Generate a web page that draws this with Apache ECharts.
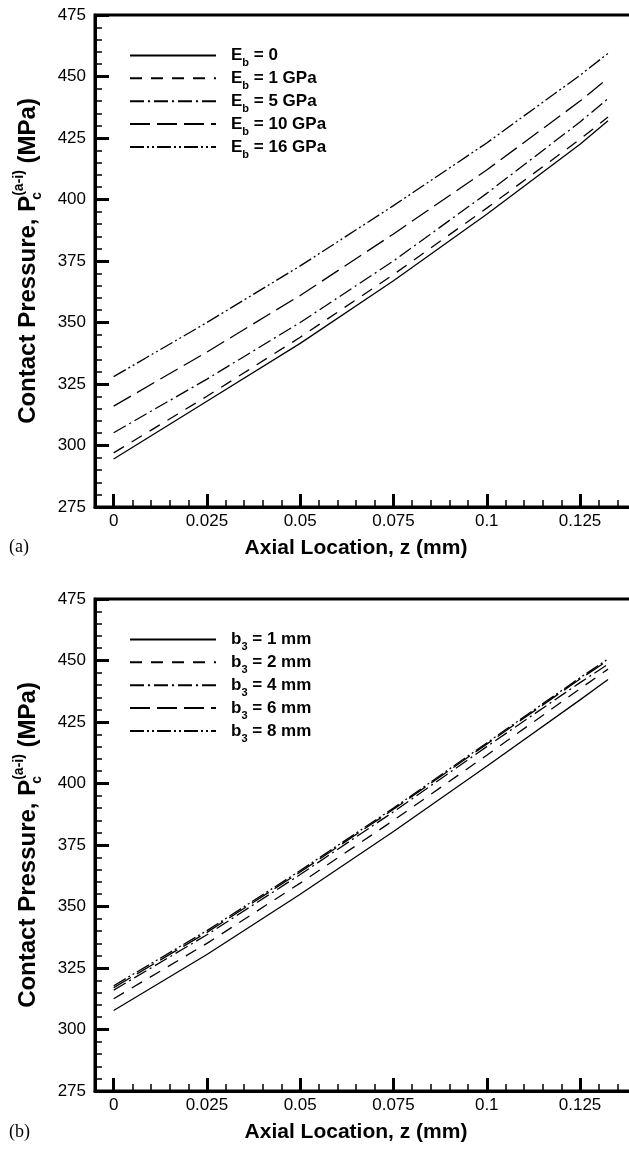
<!DOCTYPE html>
<html>
<head>
<meta charset="utf-8">
<style>
    html, body { margin: 0; padding: 0; background: #fff; }
    #statisticsChart { width: 629px; height: 1152px; }
</style>
</head>
<body>
<div id="statisticsChart"></div>
<script src="https://cdn.jsdelivr.net/npm/echarts@6/dist/echarts.min.js"></script>
<script>
// axial location (mm)
var zList = [0, 0.025, 0.05, 0.075, 0.1, 0.125, 0.1325];
var xTickList = [0, 0.025, 0.05, 0.075, 0.1, 0.125];

// (a) contact pressure for different E_b
var ebNames = ["E_b = 0", "E_b = 1 GPa", "E_b = 5 GPa", "E_b = 10 GPa", "E_b = 16 GPa"];
var eb0List = [294.5, 318, 341.5, 367, 394, 422.5, 432];
var eb1List = [297, 320, 344, 369.5, 396.5, 424.5, 433.5];
var eb5List = [305.2, 327, 350, 375, 402.5, 431.5, 441];
var eb10List = [316, 338, 361, 386, 412, 440, 449.3];
var eb16List = [328, 350, 373, 397.5, 423, 450.5, 459.4];

// (b) contact pressure for different b_3
var b3Names = ["b_3 = 1 mm", "b_3 = 2 mm", "b_3 = 4 mm", "b_3 = 6 mm", "b_3 = 8 mm"];
var b31List = [307.7, 330.5, 355, 380.5, 407, 434, 442.3];
var b32List = [312.5, 335, 359.5, 385, 411.5, 438.5, 446.5];
var b34List = [316, 338.5, 363, 388.5, 415, 441, 448.5];
var b36List = [317, 339.5, 364, 389.5, 416, 442.5, 450];
var b38List = [317.8, 340.2, 364.6, 390, 416.5, 443, 450.6];

var FONT = "Liberation Sans, Arial, Helvetica, sans-serif";
var lineTypes = ["solid", [12, 9], [14, 4, 2, 4], [20, 7], [14, 3, 2, 3, 2, 3]];

function toPairs(list) {
    return zList.map(function (z, i) { return [z, list[i]]; });
}

// "E_b = 1 GPa" -> rich text with subscript
function legendText(name) {
    var parts = name.split(" = ");
    var sym = parts[0].split("_");
    return "{h|" + sym[0] + "}{s|" + sym[1] + "}{t| = " + parts[1] + "}";
}

function makeGrid(top) {
    // right frame side runs past the picture edge
    return {
        left: 95,
        top: top,
        width: 541,
        height: 492,
        outerBoundsMode: "none",
        containLabel: false,
        show: true,
        borderColor: "#000",
        borderWidth: 3,
        backgroundColor: "transparent"
    };
}

function mainXAxis(gridIndex) {
    return {
        type: "value",
        gridIndex: gridIndex,
        position: "bottom",
        min: -0.005,
        max: 0.14,
        name: "Axial Location, z (mm)",
        nameLocation: "middle",
        nameGap: 31,
        // right padding pulls the centred name a bit to the left
        nameTextStyle: { fontFamily: FONT, fontSize: 21, fontWeight: "bold", color: "#000", padding: [0, 19, 0, 0] },
        axisLine: { show: true, onZero: false, lineStyle: { color: "#000", width: 3 } },
        axisTick: { show: true, inside: true, length: 13, customValues: xTickList, lineStyle: { color: "#000", width: 3 } },
        axisLabel: { show: true, margin: 6, customValues: xTickList, fontFamily: FONT, fontSize: 17, color: "#000" },
        splitLine: { show: false }
    };
}

function minorXAxis(gridIndex) {
    return {
        type: "value",
        gridIndex: gridIndex,
        position: "bottom",
        min: -0.005,
        max: 0.14,
        interval: 0.005,
        axisLine: { show: false, onZero: false },
        axisTick: { show: true, inside: true, length: 7, lineStyle: { color: "#000", width: 1.5 } },
        axisLabel: { show: false },
        splitLine: { show: false }
    };
}

function makeYAxis(gridIndex) {
    return {
        type: "value",
        gridIndex: gridIndex,
        position: "left",
        min: 275,
        max: 475,
        interval: 25,
        name: "{n|Contact Pressure, P}{sb|c}{sp|(a-i)}{n| (MPa)}",
        nameLocation: "middle",
        nameGap: 51,
        nameRotate: 90,
        nameTextStyle: {
            color: "#000",
            rich: {
                n: { fontFamily: FONT, fontSize: 24, fontWeight: "bold", lineHeight: 32, color: "#000" },
                sp: { fontFamily: FONT, fontSize: 14, fontWeight: "bold", lineHeight: 14, verticalAlign: "top", color: "#000" },
                sb: { fontFamily: FONT, fontSize: 14, fontWeight: "bold", lineHeight: 14, verticalAlign: "bottom", width: 0, color: "#000" }
            }
        },
        axisLine: { show: true, onZero: false, lineStyle: { color: "#000", width: 3 } },
        axisTick: { show: true, inside: true, length: 14, lineStyle: { color: "#000", width: 3 } },
        minorTick: { show: true, splitNumber: 5, length: 7, lineStyle: { color: "#000", width: 1.5 } },
        axisLabel: { margin: 9, fontFamily: FONT, fontSize: 17, color: "#000" },
        splitLine: { show: false },
        minorSplitLine: { show: false }
    };
}

function makeLegend(names, top) {
    return {
        orient: "vertical",
        left: 129,
        top: top,
        padding: 0,
        itemWidth: 86,
        itemHeight: 26,
        itemGap: -0.5,
        selectedMode: false,
        data: names,
        formatter: legendText,
        // hide the circle that line series put in the middle of the icon
        itemStyle: { opacity: 0, color: "transparent", borderColor: "transparent", borderWidth: 0 },
        textStyle: {
            rich: {
                h: { fontFamily: FONT, fontSize: 17, fontWeight: "bold", lineHeight: 26, color: "#000", padding: [0, 0, 0, 10] },
                t: { fontFamily: FONT, fontSize: 17, fontWeight: "bold", lineHeight: 26, color: "#000" },
                s: { fontFamily: FONT, fontSize: 11, fontWeight: "bold", lineHeight: 11, verticalAlign: "bottom", color: "#000" }
            }
        }
    };
}

function makeSeries(name, list, idx, xIndex, yIndex) {
    return {
        name: name,
        type: "line",
        xAxisIndex: xIndex,
        yAxisIndex: yIndex,
        data: toPairs(list),
        symbol: "none",
        smooth: false,
        lineStyle: { color: "#000", width: 1.3, type: lineTypes[idx] },
        itemStyle: { color: "#000" },
        animation: false
    };
}

function createChart() {
    var chartDom = document.getElementById("statisticsChart");
    var mychart = echarts.init(chartDom, null, { renderer: "canvas" });
    var ebLists = [eb0List, eb1List, eb5List, eb10List, eb16List];
    var b3Lists = [b31List, b32List, b34List, b36List, b38List];
    var series = [];
    ebLists.forEach(function (list, i) {
        series.push(makeSeries(ebNames[i], list, i, 0, 0));
    });
    b3Lists.forEach(function (list, i) {
        series.push(makeSeries(b3Names[i], list, i, 2, 1));
    });

    var option = {
        backgroundColor: "#fff",
        animation: false,
        title: [
            { text: "(a)", left: 9, top: 538, padding: 0, textStyle: { fontFamily: "Liberation Serif, Times New Roman, serif", fontSize: 18, fontWeight: "normal", color: "#000" } },
            { text: "(b)", left: 9, top: 1123, padding: 0, textStyle: { fontFamily: "Liberation Serif, Times New Roman, serif", fontSize: 18, fontWeight: "normal", color: "#000" } }
        ],
        legend: [makeLegend(ebNames, 45), makeLegend(b3Names, 629)],
        grid: [makeGrid(15), makeGrid(599)],
        xAxis: [mainXAxis(0), minorXAxis(0), mainXAxis(1), minorXAxis(1)],
        yAxis: [makeYAxis(0), makeYAxis(1)],
        series: series
    };
    mychart.setOption(option);
}

createChart();
</script>
</body>
</html>
